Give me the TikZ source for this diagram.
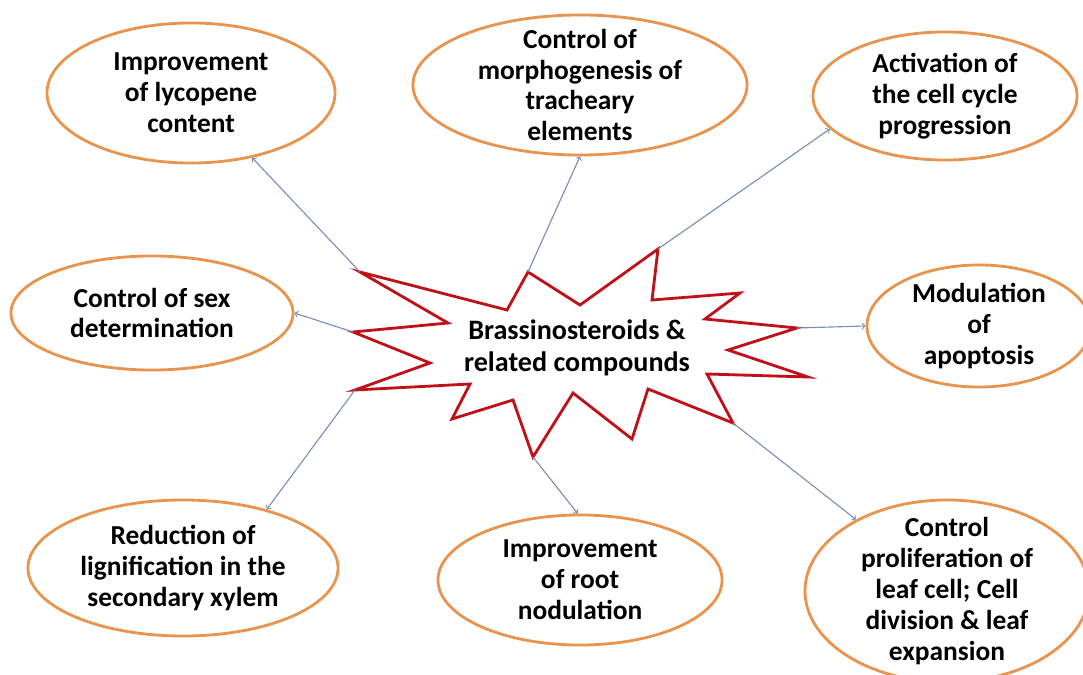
\documentclass[tikz,border=0pt]{standalone}
\usepackage{fontspec}
\setmainfont{Carlito}
\usetikzlibrary{shapes.geometric}
\definecolor{ringorange}{RGB}{233,148,78}
\definecolor{starred}{RGB}{192,16,24}
\definecolor{linkblue}{RGB}{118,142,186}
\tikzset{
  effect/.style={ellipse, draw=ringorange, line width=2pt, align=center,
    inner sep=-1.5cm, font=\bfseries\fontsize{19.5}{22}\selectfont},
  link/.style={draw=linkblue, line width=0.8pt, ->},
}
\begin{document}
\begin{tikzpicture}[x=0.025cm, y=-0.025cm]
    \useasboundingbox (0,0) rectangle (1083,675);
    % the star
    \draw[starred, line width=2pt, line join=miter, fill=white]
      (360,272) coordinate (o1) -- (507,310) -- (528,272) coordinate (o2)
      -- (580,305) -- (658,249) coordinate (o3) -- (652,300)
      -- (740,293) coordinate (o4) -- (705,319) -- (797,328) coordinate (o5)
      -- (728,350) -- (808,377) coordinate (o6) -- (707,374)
      -- (733,423) coordinate (o7) -- (648,389) -- (632,439) coordinate (o8)
      -- (573,393) -- (533,457) coordinate (o9) -- (513,400)
      -- (452,419) coordinate (o10) -- (470,384) -- (355,390) coordinate (o11)
      -- (430,363) -- (353,332) coordinate (o12) -- (448,323) -- cycle;
    \node[align=center, font=\bfseries\fontsize{20}{22.5}\selectfont] (bras) at (577,348)
      {Brassinosteroids \&\\related compounds};
    % the effects
    \node[effect, minimum width=7.2cm, minimum height=3.5cm] (lyco) at (191,93)
      {Improvement\\of lycopene\\content};
    \node[effect, minimum width=8.35cm, minimum height=3.5cm] (trach) at (580,85)
      {Control of\\morphogenesis of\\tracheary\\elements};
    \node[effect, minimum width=6.6cm, minimum height=3.2cm] (cycle) at (945,96)
      {Activation of\\the cell cycle\\progression};
    \node[effect, minimum width=7.05cm, minimum height=2.85cm] (sex) at (152,313)
      {Control of sex\\determination};
    \node[effect, minimum width=5.6cm, minimum height=3.05cm] (apop) at (979,326)
      {Modulation\\of\\apoptosis};
    \node[effect, minimum width=7.75cm, minimum height=3.4cm] (lign) at (183,568)
      {Reduction of\\lignification in the\\secondary xylem};
    \node[effect, minimum width=7.1cm, minimum height=3.25cm] (root) at (580,580)
      {Improvement\\of root\\nodulation};
    \node[effect, minimum width=7.1cm, minimum height=4.55cm] (leaf) at (947,591)
      {Control\\proliferation of\\leaf cell; Cell\\division \& leaf\\expansion};
    % links
    \draw[link] (o1) -- (lyco);
    \draw[link] (o2) -- (trach.270);
    \draw[link] (o3) -- (cycle.196);
    \draw[link] (o12) -- (sex.0);
    \draw[link] (o5) -- (apop.180);
    \draw[link] (o11) -- (lign.35);
    \draw[link] (o9) -- (root.92);
    \draw[link] (o7) -- (leaf);
\end{tikzpicture}
\end{document}
